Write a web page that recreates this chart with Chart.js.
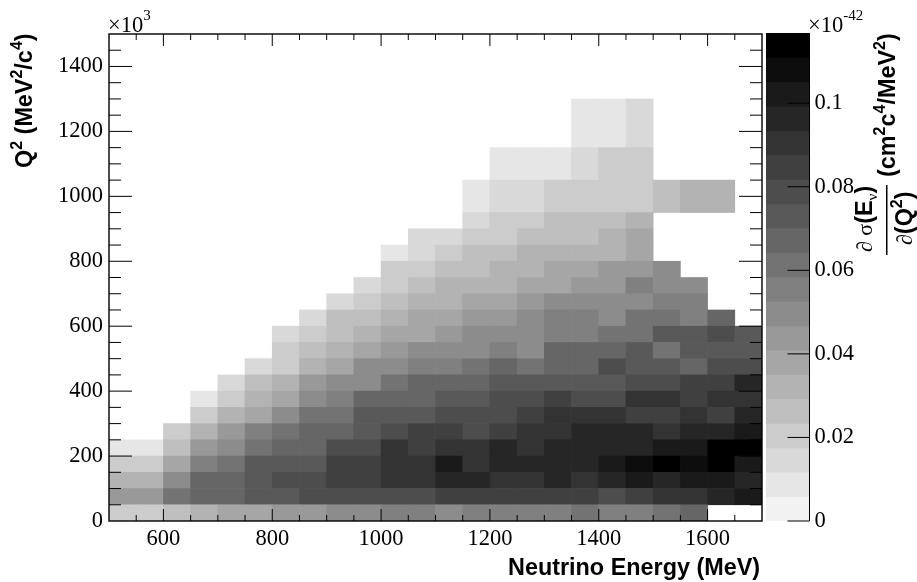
<!DOCTYPE html>
<html>
<head>
<meta charset="utf-8">
<title>Neutrino cross section</title>
<style>
  html, body { margin: 0; padding: 0; background: #fff; }
  #wrap { position: relative; width: 917px; height: 582px; overflow: hidden; }
  canvas { position: absolute; top: 0; }
</style>
<script src="https://cdn.jsdelivr.net/npm/chart.js@4/dist/chart.umd.js"></script>
</head>
<body>
<div id="wrap">
  <canvas id="map" width="917" height="582" style="left:0"></canvas>
  <canvas id="scale" width="157" height="582" style="left:760px"></canvas>
</div>
<script>
// lower edge of each bin
const energyBins = [500, 550, 600, 650, 700, 750, 800, 850, 900, 950, 1000, 1050, 1100, 1150, 1200, 1250, 1300, 1350, 1400, 1450, 1500, 1550, 1600, 1650];
const q2Bins = [0, 50, 100, 150, 200, 250, 300, 350, 400, 450, 500, 550, 600, 650, 700, 750, 800, 850, 900, 950, 1000, 1050, 1100, 1150, 1200, 1250];
const energyWidth = 50;
const q2Width = 50;

// d sigma / d Q2 in units of 1e-45, one array per Q2 bin, bottom row first
const n = null;
const q2Row00 = [20, 20, 26, 32, 38, 38, 44, 44, 50, 50, 55, 55, 50, 55, 55, 55, 55, 61, 55, 55, 61, 67, n, n];
const q2Row01 = [44, 44, 61, 67, 67, 73, 73, 79, 79, 79, 79, 79, 85, 85, 85, 85, 85, 85, 79, 85, 90, 90, 96, 102];
const q2Row02 = [32, 32, 50, 67, 67, 73, 79, 79, 85, 85, 90, 90, 96, 96, 90, 90, 96, 90, 96, 102, 96, 102, 102, 96];
const q2Row03 = [20, 20, 38, 55, 61, 73, 73, 73, 85, 85, 90, 90, 102, 90, 96, 96, 96, 96, 102, 108, 114, 108, 114, 102];
const q2Row04 = [9, 9, 26, 44, 50, 61, 67, 67, 79, 79, 90, 85, 90, 90, 96, 90, 96, 96, 96, 96, 102, 102, 114, 114];
const q2Row05 = [n, n, 20, 32, 44, 55, 61, 67, 67, 73, 79, 85, 85, 79, 85, 90, 90, 96, 96, 96, 90, 96, 96, 102];
const q2Row06 = [n, n, n, 20, 32, 38, 50, 61, 61, 73, 73, 73, 79, 79, 79, 85, 90, 90, 90, 85, 85, 90, 85, 96];
const q2Row07 = [n, n, n, 9, 20, 32, 38, 50, 55, 67, 67, 67, 73, 73, 79, 79, 85, 79, 79, 90, 90, 85, 90, 90];
const q2Row08 = [n, n, n, n, 15, 26, 32, 44, 50, 50, 61, 67, 67, 67, 73, 73, 73, 73, 73, 79, 79, 85, 85, 96];
const q2Row09 = [n, n, n, n, n, 15, 20, 32, 38, 50, 50, 55, 55, 61, 67, 61, 67, 67, 79, 73, 73, 67, 79, 79];
const q2Row10 = [n, n, n, n, n, n, 20, 26, 32, 38, 44, 50, 50, 50, 55, 50, 67, 67, 67, 73, 61, 73, 73, 73];
const q2Row11 = [n, n, n, n, n, n, 15, 20, 26, 32, 38, 38, 44, 50, 50, 50, 55, 55, 61, 61, 73, 73, 79, 73];
const q2Row12 = [n, n, n, n, n, n, n, 15, 26, 26, 32, 38, 38, 44, 44, 50, 55, 55, 50, 61, 61, 55, 67, n];
const q2Row13 = [n, n, n, n, n, n, n, n, 15, 20, 26, 32, 32, 38, 38, 44, 50, 50, 50, 50, 55, 55, n, n];
const q2Row14 = [n, n, n, n, n, n, n, n, n, 15, 20, 26, 32, 32, 32, 38, 38, 44, 44, 55, 50, 50, n, n];
const q2Row15 = [n, n, n, n, n, n, n, n, n, n, 20, 20, 26, 26, 32, 32, 38, 38, 44, 44, 50, n, n, n];
const q2Row16 = [n, n, n, n, n, n, n, n, n, n, 9, 15, 20, 26, 26, 32, 32, 32, 32, 38, n, n, n, n];
const q2Row17 = [n, n, n, n, n, n, n, n, n, n, n, 15, 15, 20, 20, 26, 26, 26, 32, 38, n, n, n, n];
const q2Row18 = [n, n, n, n, n, n, n, n, n, n, n, n, n, 15, 20, 20, 26, 26, 26, 32, n, n, n, n];
const q2Row19 = [n, n, n, n, n, n, n, n, n, n, n, n, n, 9, 15, 15, 20, 20, 20, 20, 26, 32, 32, n];
const q2Row20 = [n, n, n, n, n, n, n, n, n, n, n, n, n, 9, 15, 15, 20, 20, 20, 20, 26, 32, 32, n];
const q2Row21 = [n, n, n, n, n, n, n, n, n, n, n, n, n, n, 9, 9, 9, 15, 20, 20, n, n, n, n];
const q2Row22 = [n, n, n, n, n, n, n, n, n, n, n, n, n, n, 9, 9, 9, 15, 20, 20, n, n, n, n];
const q2Row23 = [n, n, n, n, n, n, n, n, n, n, n, n, n, n, n, n, n, 9, 9, 15, n, n, n, n];
const q2Row24 = [n, n, n, n, n, n, n, n, n, n, n, n, n, n, n, n, n, 9, 9, 15, n, n, n, n];
const q2Row25 = [n, n, n, n, n, n, n, n, n, n, n, n, n, n, n, n, n, 9, 9, 15, n, n, n, n];
const q2Rows = [q2Row00, q2Row01, q2Row02, q2Row03, q2Row04, q2Row05, q2Row06, q2Row07, q2Row08, q2Row09, q2Row10, q2Row11, q2Row12,
  q2Row13, q2Row14, q2Row15, q2Row16, q2Row17, q2Row18, q2Row19, q2Row20, q2Row21, q2Row22, q2Row23, q2Row24, q2Row25];

// colour bar
const levelGreys = ['#f2f2f2', '#e6e6e6', '#d9d9d9', '#cccccc', '#bfbfbf', '#b3b3b3', '#a6a6a6', '#999999', '#8c8c8c', '#808080',
  '#737373', '#666666', '#595959', '#4d4d4d', '#404040', '#333333', '#262626', '#1a1a1a', '#0d0d0d', '#000000'];
const levelWidth = 5.84;
const scaleMax = 116.8;

// tick labels
const energyTicks = [600, 800, 1000, 1200, 1400, 1600];
const q2Ticks = [0, 200, 400, 600, 800, 1000, 1200, 1400];
const scaleTicks = [0, 20, 40, 60, 80, 100];
const energyMinor = [550, 600, 650, 700, 750, 800, 850, 900, 950, 1000, 1050, 1100, 1150, 1200, 1250, 1300, 1350, 1400, 1450, 1500, 1550, 1600, 1650];
const q2Minor = [50, 100, 150, 200, 250, 300, 350, 400, 450, 500, 550, 600, 650, 700, 750, 800, 850, 900, 950, 1000, 1050, 1100, 1150, 1200, 1250, 1300, 1350, 1400, 1450];

const SERIF = '"Liberation Serif", serif';
const SANS = '"Liberation Sans", sans-serif';
const BOLD = `bold 23.4px ${SANS}`;
const BOLD_SUP = `bold 16px ${SANS}`;

function colorFor(v) {
  return levelGreys[Math.min(Math.floor(v / levelWidth), levelGreys.length - 1)];
}

const mapDatasets = q2Rows.map((row, r) => {
  const data = [];
  row.forEach((v, c) => {
    if (v != null) data.push({ x: energyBins[c] + energyWidth / 2, y: [q2Bins[r], q2Bins[r] + q2Width], v });
  });
  return {
    data,
    backgroundColor: data.map((d) => colorFor(d.v)),
    borderWidth: 0,
    grouped: false,
    barPercentage: 1,
    categoryPercentage: 1,
  };
});

// text with mixed fonts along a line, optionally turned 90 degrees
function drawRuns(ctx, x, y, rotated, runs) {
  ctx.save();
  ctx.translate(x, y);
  if (rotated) ctx.rotate(-Math.PI / 2);
  ctx.textAlign = 'left';
  ctx.textBaseline = 'alphabetic';
  ctx.fillStyle = '#000';
  let pos = 0;
  runs.forEach((run) => {
    ctx.font = run.font;
    ctx.fillText(run.text, pos, run.rise ? -run.rise : 0);
    pos += ctx.measureText(run.text).width;
  });
  ctx.restore();
}

const frameTicks = {
  id: 'frameTicks',
  afterDatasetsDraw(chart) {
    const { ctx, chartArea: a, scales } = chart;
    ctx.save();
    ctx.strokeStyle = '#000';
    ctx.lineWidth = 1;
    ctx.beginPath();
    energyMinor.forEach((v) => {
      const px = scales.x.getPixelForValue(v);
      const len = (v % 200 === 0) ? 12 : 6;
      ctx.moveTo(px, a.bottom); ctx.lineTo(px, a.bottom - len);
      ctx.moveTo(px, a.top); ctx.lineTo(px, a.top + len);
    });
    q2Minor.forEach((v) => {
      const py = scales.y.getPixelForValue(v);
      const len = (v % 200 === 0) ? 23 : 12;
      ctx.moveTo(a.left, py); ctx.lineTo(a.left + len, py);
      ctx.moveTo(a.right, py); ctx.lineTo(a.right - len, py);
    });
    ctx.stroke();
    ctx.lineWidth = 1.4;
    ctx.strokeRect(a.left, a.top, a.right - a.left, a.bottom - a.top);
    ctx.restore();

    drawRuns(ctx, 108, 32, false, [
      { text: '×10', font: `22.5px ${SERIF}` },
      { text: '3', font: `15px ${SERIF}`, rise: 12 },
    ]);
    drawRuns(ctx, 508, 575, false, [{ text: 'Neutrino Energy (MeV)', font: BOLD }]);
    drawRuns(ctx, 32, 168, true, [
      { text: 'Q', font: BOLD },
      { text: '2', font: BOLD_SUP, rise: 10 },
      { text: ' (MeV', font: BOLD },
      { text: '2', font: BOLD_SUP, rise: 10 },
      { text: '/c', font: BOLD },
      { text: '4', font: BOLD_SUP, rise: 10 },
      { text: ')', font: BOLD },
    ]);
  },
};

new Chart(document.getElementById('map'), {
  type: 'bar',
  data: { datasets: mapDatasets },
  options: {
    responsive: false,
    animation: false,
    layout: { padding: { left: 0, right: 155, top: 34, bottom: 0 } },
    plugins: { legend: { display: false }, tooltip: { enabled: false } },
    scales: {
      x: {
        type: 'linear',
        offset: false,
        min: 500,
        max: 1700,
        grid: { display: false, drawTicks: false },
        border: { display: false },
        afterBuildTicks: (s) => { s.ticks = energyTicks.map((value) => ({ value })); },
        ticks: {
          maxRotation: 0,
          autoSkip: false,
          padding: 5,
          color: '#000',
          font: { family: SERIF, size: 22.5 },
          callback: (v) => `${v}`,
        },
        afterFit: (s) => { s.height = 61; },
      },
      y: {
        type: 'linear',
        min: 0,
        max: 1500,
        grid: { display: false, drawTicks: false },
        border: { display: false },
        afterBuildTicks: (s) => { s.ticks = q2Ticks.map((value) => ({ value })); },
        ticks: {
          autoSkip: false,
          padding: 6,
          color: '#000',
          font: { family: SERIF, size: 22.5 },
          callback: (v) => `${v}`,
        },
        afterFit: (s) => { s.width = 109; },
      },
    },
  },
  plugins: [frameTicks],
});

const scaleData = levelGreys.map((g, i) => ({ x: 0, y: [i * levelWidth, (i + 1) * levelWidth] }));

const scaleDecor = {
  id: 'scaleDecor',
  afterDatasetsDraw(chart) {
    const { ctx, chartArea: a, scales } = chart;
    ctx.save();
    ctx.strokeStyle = '#000';
    ctx.lineWidth = 1;
    ctx.beginPath();
    ctx.moveTo(a.right, a.top); ctx.lineTo(a.right, a.bottom);
    scaleTicks.forEach((v) => {
      const py = scales.y.getPixelForValue(v);
      ctx.moveTo(a.right - 22, py); ctx.lineTo(a.right, py);
    });
    ctx.stroke();
    ctx.restore();

    // page x minus 760, this canvas starts there
    drawRuns(ctx, 48, 32, false, [
      { text: '×10', font: `22.5px ${SERIF}` },
      { text: '-42', font: `15px ${SERIF}`, rise: 12 },
    ]);
    drawRuns(ctx, 112, 252, true, [
      { text: '∂ σ', font: `22px ${SERIF}` },
      { text: '(E', font: BOLD },
      { text: 'ν', font: `15px ${SERIF}`, rise: -5 },
      { text: ')', font: BOLD },
    ]);
    drawRuns(ctx, 135, 177, true, [
      { text: '(cm', font: BOLD },
      { text: '2', font: BOLD_SUP, rise: 10 },
      { text: 'c', font: BOLD },
      { text: '4', font: BOLD_SUP, rise: 10 },
      { text: '/MeV', font: BOLD },
      { text: '2', font: BOLD_SUP, rise: 10 },
      { text: ')', font: BOLD },
    ]);
    drawRuns(ctx, 152, 245, true, [
      { text: '∂', font: `22px ${SERIF}` },
      { text: '(Q', font: BOLD },
      { text: '2', font: BOLD_SUP, rise: 10 },
      { text: ')', font: BOLD },
    ]);
    ctx.save();
    ctx.fillStyle = '#000';
    ctx.fillRect(126, 185, 1.5, 70);
    ctx.restore();
  },
};

new Chart(document.getElementById('scale'), {
  type: 'bar',
  data: {
    datasets: [{
      data: scaleData,
      backgroundColor: levelGreys,
      borderWidth: 0,
      grouped: false,
      barPercentage: 1,
      categoryPercentage: 1,
    }],
  },
  options: {
    responsive: false,
    animation: false,
    layout: { padding: { left: 6, right: 0, top: 33, bottom: 61 } },
    plugins: { legend: { display: false }, tooltip: { enabled: false } },
    scales: {
      x: { type: 'category', labels: [0], offset: true, display: false },
      y: {
        position: 'right',
        min: 0,
        max: scaleMax,
        grid: { display: false, drawTicks: false },
        border: { display: false },
        afterBuildTicks: (s) => { s.ticks = scaleTicks.map((value) => ({ value })); },
        ticks: {
          autoSkip: false,
          padding: 5,
          color: '#000',
          font: { family: SERIF, size: 22.5 },
          callback: (v) => `${v / 1000}`,
        },
        afterFit: (s) => { s.width = 107.5; },
      },
    },
  },
  plugins: [scaleDecor],
});
</script>
</body>
</html>
